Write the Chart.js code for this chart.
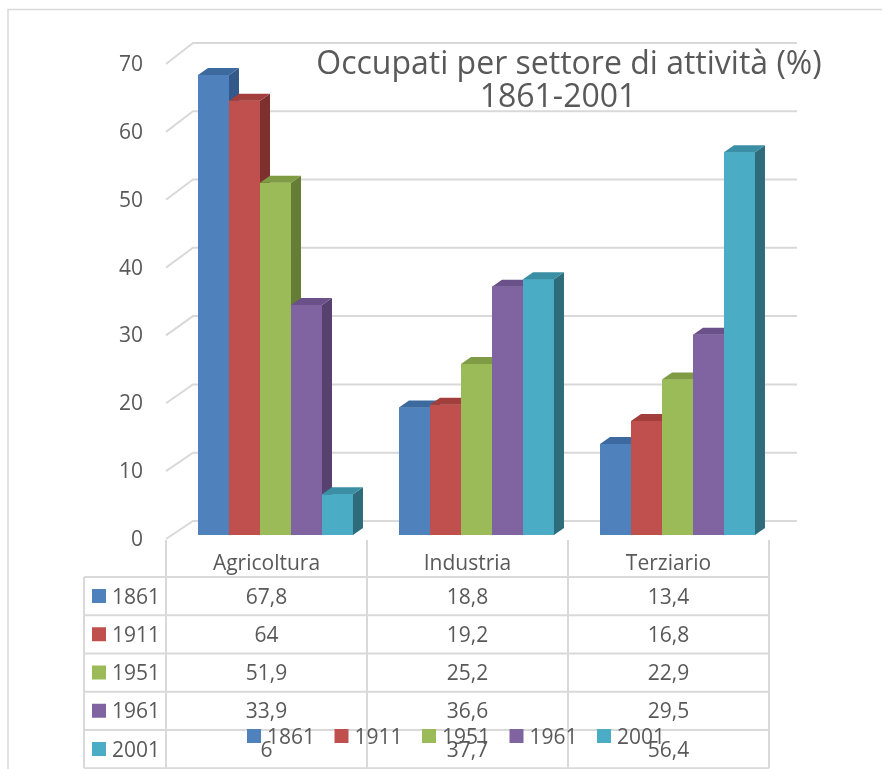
<!DOCTYPE html>
<html>
<head>
<meta charset="utf-8">
<script src="https://cdn.jsdelivr.net/npm/chart.js@4/dist/chart.umd.min.js"></script>
<style>
  body { margin: 0; background: #fff; }
  #wrap { width: 882px; height: 769px; }
</style>
</head>
<body>
<div id="wrap"><canvas id="occupati" width="882" height="769"></canvas></div>
<script>
// data
const categories = ['Agricoltura', 'Industria', 'Terziario'];
const years = ['1861', '1911', '1951', '1961', '2001'];
const v1861 = [67.8, 18.8, 13.4];
const v1911 = [64, 19.2, 16.8];
const v1951 = [51.9, 25.2, 22.9];
const v1961 = [33.9, 36.6, 29.5];
const v2001 = [6, 37.7, 56.4];
const yTicks = [0, 10, 20, 30, 40, 50, 60, 70];
const titleLines = ['Occupati per settore di attività (%)', '1861-2001'];

const seriesValues = [v1861, v1911, v1951, v1961, v2001];

// office 2007 palette, front / top / side faces
const frontColors = ['#4F81BD', '#C0504D', '#9BBB59', '#8064A2', '#4BACC6'];
const topColors = ['#3D6A9E', '#A23F3D', '#7F9C45', '#6A5189', '#3B8FA5'];
const sideColors = ['#33588A', '#7E302E', '#667D36', '#57416F', '#2E6C7C'];

const FONT = '"Open Sans", Lato, sans-serif';
const TEXT = '#595959';
const LINE = '#d9d9d9';
const DX = 10, DY = 7; // depth of the bars

function fmt(v) {
  return String(v).replace('.', ',');
}

// back wall + perspective gridlines
const wallPlugin = {
  id: 'wall3d',
  beforeDatasetsDraw(chart) {
    const ctx = chart.ctx;
    const y = chart.scales.y;
    const area = chart.chartArea;
    const frontX = area.left - 9;
    const backX = area.left + 18;
    const backRight = area.right + 19;
    ctx.save();
    ctx.strokeStyle = LINE;
    ctx.lineWidth = 2;
    yTicks.forEach(function(v) {
      const p = y.getPixelForValue(v);
      const pb = p - 14 - 0.0065 * (area.bottom - p);
      ctx.beginPath();
      ctx.moveTo(frontX, p + 4);
      ctx.lineTo(backX, pb);
      ctx.lineTo(backRight, pb);
      ctx.stroke();
    });
    ctx.restore();
  }
};

// chart.js paints the first dataset last, so redo the bars left to right:
// front, side, top for each series in turn, the next one covers the side
const barsPlugin = {
  id: 'bars3d',
  afterDatasetsDraw(chart) {
    const ctx = chart.ctx;
    ctx.save();
    chart.data.datasets.forEach(function(ds, i) {
      chart.getDatasetMeta(i).data.forEach(function(el) {
        const p = el.getProps(['x', 'y', 'base', 'width'], true);
        const l = p.x - p.width / 2, r = p.x + p.width / 2;
        ctx.fillStyle = frontColors[i];
        ctx.fillRect(l, p.y, r - l, p.base - p.y);
        ctx.fillStyle = sideColors[i];
        ctx.beginPath();
        ctx.moveTo(r, p.y);
        ctx.lineTo(r + DX, p.y - DY);
        ctx.lineTo(r + DX, p.base - DY);
        ctx.lineTo(r, p.base);
        ctx.closePath();
        ctx.fill();
        ctx.fillStyle = topColors[i];
        ctx.beginPath();
        ctx.moveTo(l, p.y);
        ctx.lineTo(l + DX, p.y - DY);
        ctx.lineTo(r + DX, p.y - DY);
        ctx.lineTo(r, p.y);
        ctx.closePath();
        ctx.fill();
      });
    });
    ctx.restore();
  }
};

// title, data table and legend
const tablePlugin = {
  id: 'dataTable',
  afterDraw(chart) {
    const ctx = chart.ctx;
    const x = chart.scales.x;
    const area = chart.chartArea;
    const colW = x.width / categories.length;
    const tLeft = area.left - 9;          // first value column
    const keyLeft = tLeft - 82;           // legend-key column
    const tRight = tLeft + colW * categories.length;
    const headTop = area.bottom + 5;
    const rowsTop = area.bottom + 42;
    const rowH = 38.25;

    ctx.save();
    // frame
    ctx.strokeStyle = LINE;
    ctx.lineWidth = 1.5;
    ctx.beginPath();
    ctx.moveTo(8, chart.height);
    ctx.lineTo(8, 9.5);
    ctx.lineTo(chart.width, 9.5);
    ctx.stroke();

    // title
    ctx.fillStyle = TEXT;
    ctx.textAlign = 'center';
    ctx.textBaseline = 'alphabetic';
    ctx.font = '32px ' + FONT;
    ctx.fillText(titleLines[0], 569, 74);
    ctx.fillText(titleLines[1], 558, 107);

    // grid of the table
    ctx.lineWidth = 2;
    ctx.beginPath();
    for (let c = 0; c <= categories.length; c++) {
      const cx = tLeft + c * colW;
      ctx.moveTo(cx, headTop);
      ctx.lineTo(cx, rowsTop + rowH * years.length);
    }
    ctx.moveTo(keyLeft, rowsTop);
    ctx.lineTo(keyLeft, rowsTop + rowH * years.length);
    for (let r = 0; r <= years.length; r++) {
      ctx.moveTo(keyLeft, rowsTop + r * rowH);
      ctx.lineTo(tRight, rowsTop + r * rowH);
    }
    ctx.stroke();

    // header
    ctx.font = '21px ' + FONT;
    ctx.fillStyle = TEXT;
    categories.forEach(function(cat, c) {
      ctx.fillText(cat, tLeft + (c + 0.5) * colW, headTop + 30);
    });

    // rows
    years.forEach(function(yr, r) {
      const top = rowsTop + r * rowH;
      ctx.fillStyle = frontColors[r];
      ctx.fillRect(keyLeft + 8, top + 12, 14, 14);
      ctx.fillStyle = TEXT;
      ctx.textAlign = 'left';
      ctx.fillText(yr, keyLeft + 28, top + 26.5);
      ctx.textAlign = 'center';
      seriesValues[r].forEach(function(v, c) {
        ctx.fillText(fmt(v), tLeft + (c + 0.5) * colW, top + 26.5);
      });
    });

    // legend (sits over the last row, as in the original)
    ctx.textAlign = 'left';
    let lx = area.left + 72;
    const ly = rowsTop + rowH * 4 - 1;
    chart.data.datasets.forEach(function(ds) {
      ctx.fillStyle = ds.backgroundColor;
      ctx.fillRect(lx, ly, 14, 14);
      ctx.fillStyle = TEXT;
      ctx.fillText(ds.label, lx + 20, ly + 14.5);
      lx += 87.5;
    });
    ctx.restore();
  }
};

new Chart(document.getElementById('occupati'), {
  type: 'bar',
  data: {
    labels: categories,
    datasets: years.map(function(yr, i) {
      return {
        label: yr,
        data: seriesValues[i],
        backgroundColor: frontColors[i],
        borderWidth: 0
      };
    })
  },
  options: {
    responsive: false,
    animation: false,
    layout: { padding: { left: 0, right: 104, top: 60, bottom: 234 } },
    datasets: { bar: { categoryPercentage: 0.771, barPercentage: 1 } },
    plugins: {
      legend: { display: false },
      tooltip: { enabled: false },
      title: { display: false }
    },
    scales: {
      x: { display: false },
      y: {
        min: 0,
        max: 70,
        afterFit: function(s) { s.width = 175; },
        afterBuildTicks: function(s) { s.ticks = yTicks.map(function(v) { return { value: v }; }); },
        grid: { display: false, drawTicks: false },
        border: { display: false },
        ticks: { color: TEXT, padding: 32, labelOffset: 5, font: { family: FONT, size: 21 } }
      }
    }
  },
  plugins: [wallPlugin, barsPlugin, tablePlugin]
});
</script>
</body>
</html>
